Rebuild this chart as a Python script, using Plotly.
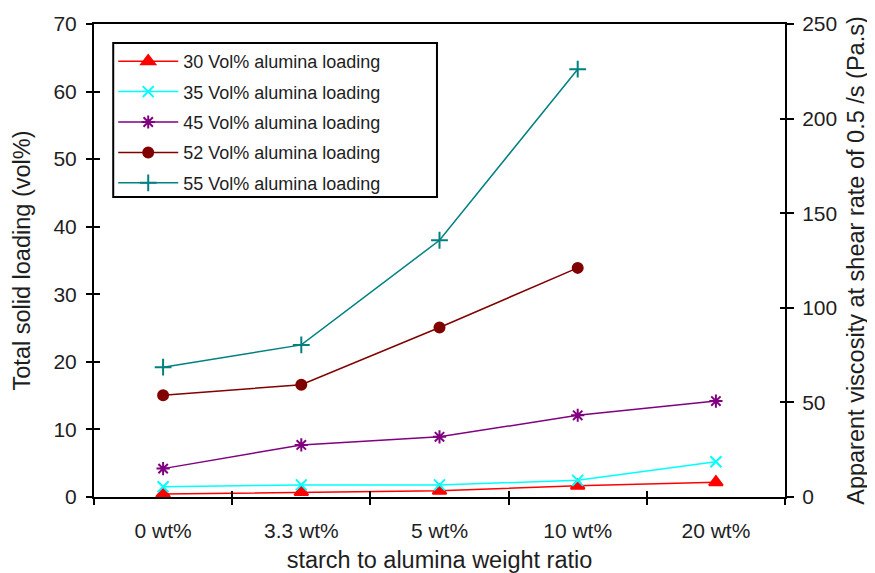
import plotly.graph_objects as go

categories = ["0 wt%", "3.3 wt%", "5 wt%", "10 wt%", "20 wt%"]
series_names = ["30 Vol% alumina loading", "35 Vol% alumina loading", "45 Vol% alumina loading",
                "52 Vol% alumina loading", "55 Vol% alumina loading"]
v30 = [1.6, 2.6, 3.3, 6.0, 7.8]
v35 = [5.4, 6.4, 6.4, 8.8, 18.6]
v45 = [15.0, 27.5, 31.8, 43.2, 50.7]
v52 = [53.8, 59.3, 89.6, 121.1]
v55 = [68.6, 80.4, 135.7, 226.1]
left_ticks = [0, 10, 20, 30, 40, 50, 60, 70]
right_ticks = [0, 50, 100, 150, 200, 250]

FONT = "Liberation Sans, Arial, sans-serif"
TXT = "#1e1e1e"

# page body has an 8px default margin; figure size compensates for it
OFF = 8
W, H = 875 - OFF, 573 - OFF
L, R, T, B = 94 - OFF, 98 - OFF, 24 - OFF, 76
PW, PH = 683, 473  # plot area in px

styles = [
    dict(color="#FF0000", symbol="triangle-up", size=12),
    dict(color="#00FFFF", symbol="x-thin", size=11),
    dict(color="#800080", symbol="asterisk", size=11),
    dict(color="#800000", symbol="circle", size=10),
    dict(color="#008080", symbol="cross-thin", size=12),
]
values = [v30, v35, v45, v52, v55]

fig = go.Figure()
for i, (name, vals, st) in enumerate(zip(series_names, values, styles)):
    fig.add_trace(go.Scatter(
        x=categories[:len(vals)], y=vals, name=name, mode="lines+markers",
        xaxis="x", yaxis="y2", legendgroup=f"g{i}",
        line=dict(color=st["color"], width=1.5),
        marker=dict(symbol=st["symbol"], size=st["size"], color=st["color"],
                    line=dict(color=st["color"], width=2)),
    ))

# invisible helper traces so that every axis is drawn
fig.add_trace(go.Scatter(x=categories, y=[None]*5, xaxis="x", yaxis="y",
                         showlegend=False, hoverinfo="skip"))
fig.add_trace(go.Scatter(x=categories, y=[None]*5, xaxis="x2", yaxis="y3",
                         showlegend=False, hoverinfo="skip"))
fig.add_trace(go.Scatter(x=categories, y=[None]*5, xaxis="x2", yaxis="y4",
                         showlegend=False, hoverinfo="skip"))

tickfont = dict(family=FONT, size=21, color=TXT)
titlefont = dict(family=FONT, size=23.5, color=TXT)

fig.update_layout(
    width=W, height=H,
    margin=dict(l=L, r=R, t=T, b=B),
    paper_bgcolor="white", plot_bgcolor="white",
    font=dict(family=FONT, color=TXT),
    xaxis=dict(
        type="category", categoryorder="array", categoryarray=categories,
        range=[-0.5, 4.5], tickson="boundaries", ticks="outside", ticklen=6,
        tickwidth=2, tickcolor="black", automargin=False, ticklabelstandoff=14,
        showline=True, linecolor="black", linewidth=2, mirror=True,
        showgrid=False, zeroline=False, tickfont=tickfont,
        title=dict(text="starch to alumina weight ratio", font=titlefont, standoff=18),
    ),
    xaxis2=dict(
        type="category", categoryorder="array", categoryarray=categories,
        range=[-0.5, 4.5], tickson="boundaries", ticks="inside", ticklen=6,
        tickwidth=2, tickcolor="black", overlaying="x", anchor="y", automargin=False,
        showline=False, showgrid=False, zeroline=False, showticklabels=False,
    ),
    yaxis=dict(
        range=[0, 70], tickvals=left_ticks, ticks="outside", ticklen=6,
        tickwidth=2, tickcolor="black", automargin=False, ticklabelstandoff=5,
        showline=True, linecolor="black", linewidth=2,
        showgrid=False, zeroline=False, tickfont=tickfont,
        title=dict(text="Total solid loading (vol%)", font=titlefont, standoff=16),
    ),
    yaxis2=dict(
        range=[0, 250], tickvals=right_ticks, ticks="outside", ticklen=7,
        tickwidth=2, tickcolor="black", overlaying="y", side="right", anchor="x",
        automargin=False, ticklabelstandoff=4,
        showline=True, linecolor="black", linewidth=2,
        showgrid=False, zeroline=False, tickfont=tickfont,
        title=dict(text="Apparent viscosity at shear rate of 0.5 /s (Pa.s)",
                   font=titlefont, standoff=11),
    ),
    yaxis3=dict(
        range=[0, 70], tickvals=left_ticks, ticks="inside", ticklen=6,
        tickwidth=2, tickcolor="black", overlaying="y", side="left", anchor="x2",
        automargin=False,
        showline=False, showgrid=False, zeroline=False, showticklabels=False,
    ),
    yaxis4=dict(
        range=[0, 250], tickvals=right_ticks, ticks="inside", ticklen=5,
        tickwidth=2, tickcolor="black", overlaying="y", side="right", anchor="x2",
        automargin=False,
        showline=False, showgrid=False, zeroline=False, showticklabels=False,
    ),
    legend=dict(
        x=(113 - 94) / PW, y=(497 - 43) / PH, xanchor="left", yanchor="top",
        borderwidth=0, bgcolor="rgba(0,0,0,0)",
        font=dict(family=FONT, size=18, color=TXT),
        tracegroupgap=4, itemwidth=60,
    ),
    shapes=[dict(
        type="rect", xref="paper", yref="paper",
        x0=(113 - 94) / PW, x1=(433 - 94) / PW,
        y0=(497 - 197) / PH, y1=(497 - 43) / PH,
        line=dict(color="black", width=2), fillcolor="rgba(0,0,0,0)", layer="above",
    )],
    showlegend=True,
)

fig.write_html("out.html")
